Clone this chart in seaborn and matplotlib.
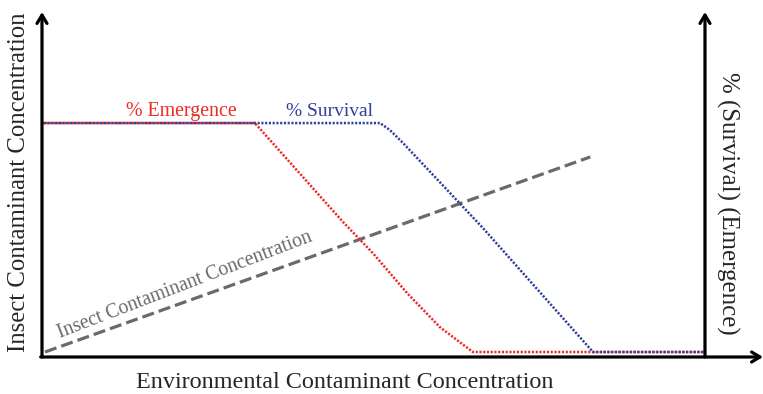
import numpy as np
import pandas as pd
import matplotlib
matplotlib.use("Agg")
import matplotlib.pyplot as plt
import seaborn as sns

# ---- data (conceptual curves) ----
env_conc_emergence = [0, 32.1, 45.4, 49.9, 55.05, 60.0, 62.6, 65.0, 100]
pct_emergence      = [100, 100, 56.8, 43.2, 25.8, 10.9, 5.2, 0, 0]

env_conc_survival = [0, 50.98, 52.49, 54.45, 66.52, 83.11, 100]
pct_survival      = [100, 100, 96.9, 91.3, 54.1, 0, 0]

env_conc_insect = [0.45, 82.7]
insect_conc     = [0, 85.2]

x_label = "Environmental Contaminant Concentration"
y_label_left = "Insect Contaminant Concentration"
y_label_right = "% (Survival) (Emergence)"

sns.set_theme(style="white")
plt.rcParams['font.family'] = ['Liberation Serif', 'DejaVu Serif']

W, H = 763, 394
fig = plt.figure(figsize=(W / 100, H / 100), dpi=100)
ax = fig.add_axes([42 / W, (H - 357) / H, (763 - 42) / W, (357 - 12) / H])
ax.set_xlim(0, 108.75)
ax.set_ylim(-2.18, 148.5)

red = "#ee2a24"
blue = "#2e3f9e"
gray = "#6a6a6a"

df_e = pd.DataFrame({"x": env_conc_emergence, "y": pct_emergence})
df_s = pd.DataFrame({"x": env_conc_survival, "y": pct_survival})
df_i = pd.DataFrame({"x": env_conc_insect, "y": insect_conc})

sns.lineplot(data=df_i, x="x", y="y", ax=ax, sort=False, color=gray, lw=2.3,
             linestyle=(0, (3.8, 1.6)))
sns.lineplot(data=df_e, x="x", y="y", ax=ax, sort=False, color=red, lw=1.8,
             linestyle=(0, (0.85, 0.65)))
sns.lineplot(data=df_s, x="x", y="y", ax=ax, sort=False, color=blue, lw=1.8,
             linestyle=(0.75, (0.85, 0.65)))
ax.set_xlabel("")
ax.set_ylabel("")
ax.set_xlim(0, 108.75)
ax.set_ylim(-2.18, 148.5)
ax.axis("off")

# axes with arrows
arrow = dict(arrowstyle="->,head_length=0.5,head_width=0.3", color="black", lw=2.3,
             shrinkA=0, shrinkB=0)
ax.annotate("", xy=(0, 148.5), xytext=(0, -2.18), xycoords="data", arrowprops=arrow,
            annotation_clip=False)
ax.annotate("", xy=(108.75, -2.18), xytext=(-0.2, -2.18), xycoords="data", arrowprops=arrow,
            annotation_clip=False)
ax.annotate("", xy=(100, 148.5), xytext=(100, -2.18), xycoords="data", arrowprops=arrow,
            annotation_clip=False)

# labels
ax.text(21.0, 105.0, "% Emergence", color=red, fontsize=14.3, ha="center", va="center")
ax.text(43.4, 105.0, "% Survival", color=blue, fontsize=14, ha="center", va="center")
ax.text(21.6, 29.3, "Insect Contaminant Concentration", color=gray, fontsize=14.2,
        rotation=21, rotation_mode="anchor", ha="center", va="center")

fig.text(345 / W, 1 - 383 / H, x_label, fontsize=17.4, ha="center", va="center")
fig.text(19 / W, 1 - 182 / H, y_label_left, fontsize=17.8, ha="center", va="center",
         rotation=90)
fig.text(728 / W, 1 - 203 / H, y_label_right, fontsize=17.9, ha="center", va="center",
         rotation=-90)

fig.savefig("out.png", dpi=100)
